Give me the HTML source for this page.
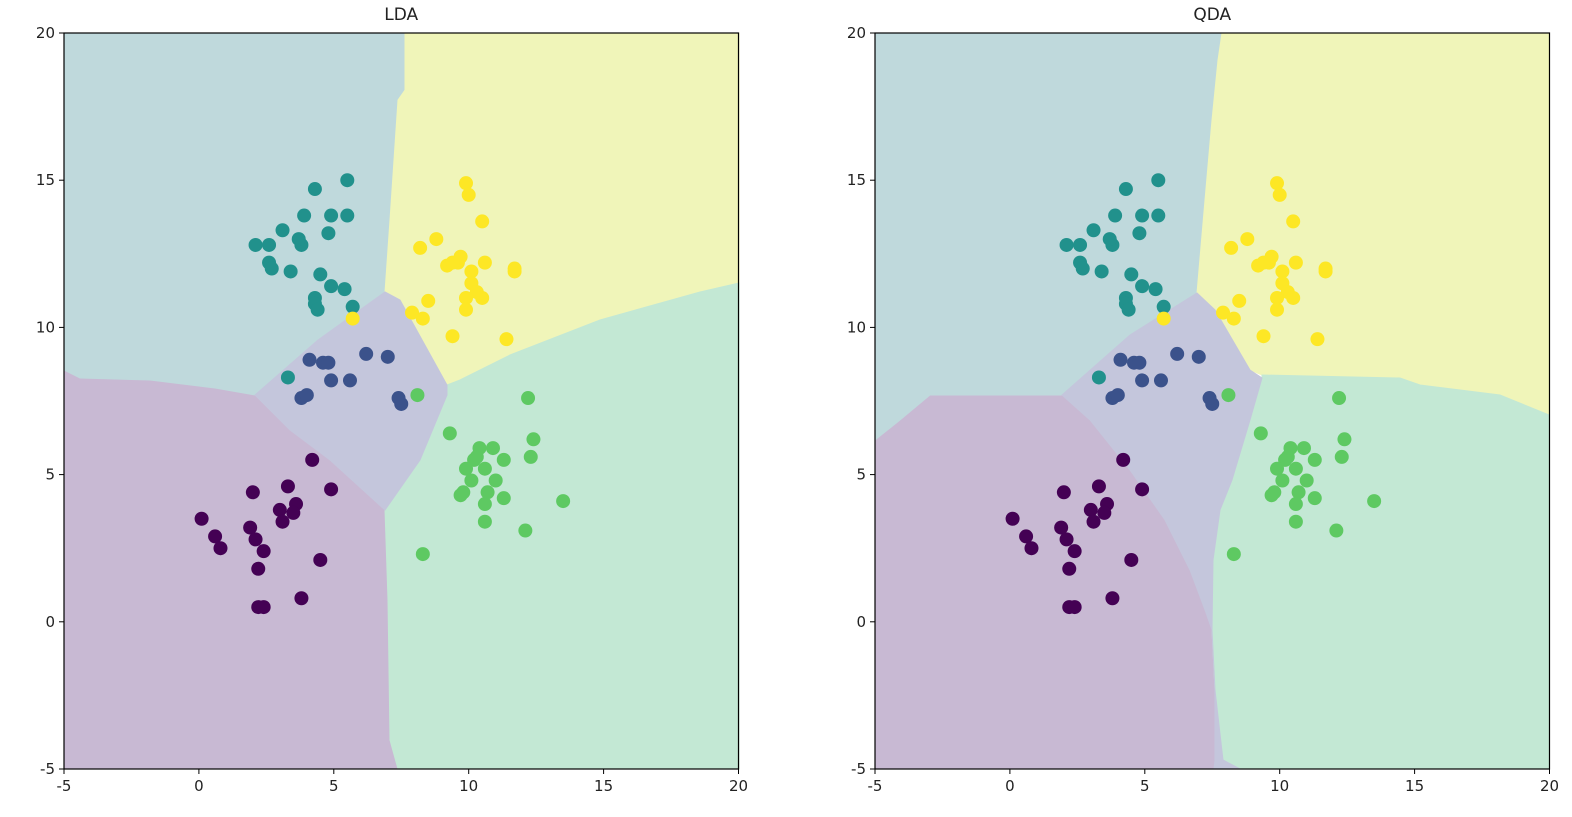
<!DOCTYPE html>
<html><head><meta charset="utf-8"><style>
body{margin:0;background:#fff;}
svg text{font-family:"DejaVu Sans","Liberation Sans",sans-serif;fill:#222;}
</style></head><body>
<svg id="chart" width="1572" height="812"></svg>
<script>
// data (x, y) per class
const purpleX=[4.2,0.1,2.0,3.3,4.9,3.6,3.0,3.1,1.9,0.6,0.8,2.1,2.4,2.2,4.5,3.8,2.2,2.4,3.5];
const purpleY=[5.5,3.5,4.4,4.6,4.5,4.0,3.8,3.4,3.2,2.9,2.5,2.8,2.4,1.8,2.1,0.8,0.5,0.5,3.7];
const blueX=[4.1,4.6,4.8,6.2,7.0,5.6,4.9,3.8,4.0,7.5,7.4];
const blueY=[8.9,8.8,8.8,9.1,9.0,8.2,8.2,7.6,7.7,7.4,7.6];
const tealX=[5.5,4.3,5.5,4.9,3.9,3.8,3.1,2.6,2.1,3.7,4.8,2.6,2.7,3.4,4.5,4.9,5.4,4.3,4.3,4.4,5.7,3.3];
const tealY=[15.0,14.7,13.8,13.8,13.8,12.8,13.3,12.8,12.8,13.0,13.2,12.2,12.0,11.9,11.8,11.4,11.3,11.0,10.8,10.6,10.7,8.3];
const greenX=[8.1,12.2,9.3,10.4,10.9,10.3,10.2,11.3,10.6,9.9,12.3,12.4,10.1,9.8,9.7,11.0,10.7,11.3,10.6,13.5,10.6,12.1,8.3];
const greenY=[7.7,7.6,6.4,5.9,5.9,5.6,5.5,5.5,5.2,5.2,5.6,6.2,4.8,4.4,4.3,4.8,4.4,4.2,4.0,4.1,3.4,3.1,2.3];
const yellowX=[9.9,10.0,10.5,8.8,8.2,10.6,9.2,9.6,9.7,9.4,10.1,10.1,10.3,10.5,9.9,8.5,9.9,7.9,8.3,9.4,11.4,11.7,11.7,5.7];
const yellowY=[14.9,14.5,13.6,13.0,12.7,12.2,12.1,12.2,12.4,12.2,11.9,11.5,11.2,11.0,11.0,10.9,10.6,10.5,10.3,9.7,9.6,12.0,11.9,10.3];
const ticks=[-5,0,5,10,15,20];
const titles=["LDA","QDA"];

const NS="http://www.w3.org/2000/svg";
const svg=document.getElementById('chart');
function mk(t,a,p){const e=document.createElementNS(NS,t);for(const k in a)e.setAttribute(k,a[k]);(p||svg).appendChild(e);return e;}
const panels=[{x0:64},{x0:875}];
const W=674.5,T=33,H=736;
const regions=[
 [
  ["#c8b9d3","64,769 64,370 80,378 150,380 215,388 255,395 290,430 330,460 385,510 388,600 390,740 398,769"],
  ["#bfd9dc","64,33 405,33 405,90 398,100 390,220 385,292 318,340 255,395 215,388 150,380 80,378 64,370"],
  ["#f0f5b9","405,33 739,33 739,283 700,292 600,320 510,355 460,380 447,385 400,300 385,292 390,220 398,100 405,90"],
  ["#c3e8d4","739,283 739,769 398,769 390,740 388,600 385,510 420,460 447,395 447,385 460,380 510,355 600,320 700,292"],
  ["#c4c6dc","385,292 400,300 447,385 447,395 420,460 385,510 330,460 290,430 255,395 318,340"]
 ],
 [
  ["#c8b9d3","875,769 875,440 900,420 930,395 1062,395 1090,420 1130,470 1165,520 1190,570 1205,610 1212,630 1215,690 1215,760 1214,769"],
  ["#bfd9dc","875,33 1222,33 1218,60 1212,120 1205,200 1197,293 1130,335 1062,395 930,395 900,420 875,440"],
  ["#f0f5b9","1222,33 1549,33 1549,415 1500,395 1420,385 1400,378 1262,375 1250,370 1215,310 1197,293 1205,200 1212,120 1218,60"],
  ["#c3e8d4","1549,415 1549,769 1240,769 1223,760 1215,690 1212,630 1213,560 1220,510 1232,480 1250,420 1262,378 1262,375 1400,378 1420,385 1500,395"],
  ["#c4c6dc","1197,293 1215,310 1250,370 1262,378 1250,420 1232,480 1220,510 1213,560 1212,630 1215,690 1223,760 1240,769 1214,769 1215,760 1215,690 1212,630 1205,610 1190,570 1165,520 1130,470 1090,420 1062,395 1130,335"]
 ]
];
const regionNames=["purple-region","teal-region","yellow-region","green-region","blue-region"];
const classes=[[purpleX,purpleY,"#440154","purple"],[blueX,blueY,"#3b528b","blue"],[tealX,tealY,"#21918c","teal"],[greenX,greenY,"#5ec962","green"],[yellowX,yellowY,"#fde725","yellow"]];
panels.forEach((p,pi)=>{
  const sx=v=>p.x0+(v+5)/25*W, sy=v=>T+H-(v+5)/25*H;
  const g=mk('g',{});
  
  
  regions[pi].forEach((r,ri)=>{
    const e=mk('polygon',{points:r[1],fill:r[0],stroke:r[0],'stroke-width':1},g);
    
    
  });
  classes.forEach(c=>{
    c[0].forEach((xv,i)=>{
      const e=mk('circle',{cx:sx(xv),cy:sy(c[1][i]),r:7,fill:c[2]},g);
      
      
    });
  });
  const fr=mk('rect',{x:p.x0,y:T,width:W,height:H,fill:'none',stroke:'#000','stroke-width':1.2},g);
  
  
  ticks.forEach(t=>{
    mk('line',{x1:sx(t),x2:sx(t),y1:T+H,y2:T+H+5,stroke:'#000'},g);
    const xl=mk('text',{x:sx(t),y:T+H+22,'text-anchor':'middle','font-size':15},g);
    xl.textContent=t;
    
    
    mk('line',{x1:p.x0-5,x2:p.x0,y1:sy(t),y2:sy(t),stroke:'#000'},g);
    const yl=mk('text',{x:p.x0-9,y:sy(t)+5,'text-anchor':'end','font-size':15},g);
    yl.textContent=t;
    
    
  });
  const tt=mk('text',{x:p.x0+W/2,y:20,'text-anchor':'middle','font-size':17},g);
  tt.textContent=titles[pi];
  
  
});
</script>
</body></html>
